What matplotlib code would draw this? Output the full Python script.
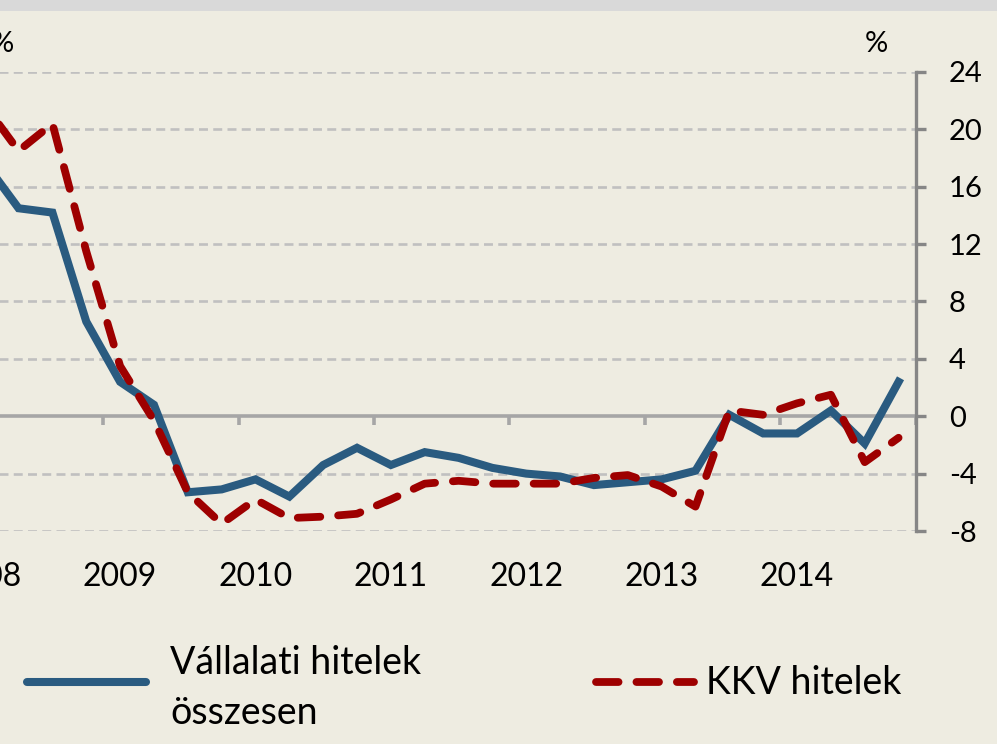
import numpy as np
import matplotlib
matplotlib.use("Agg")
import matplotlib.pyplot as plt
from matplotlib.lines import Line2D
from matplotlib.patches import Rectangle

plt.rcParams['font.family'] = ['Lato', 'DejaVu Sans']

# quarterly data, 2008 Q1 - 2014 Q4 (annual growth, %)
years = ['2008', '2009', '2010', '2011', '2012', '2013', '2014']
vallalati = [17.7, 14.5, 14.2, 6.6,
             2.4, 0.8, -5.3, -5.1,
             -4.4, -5.6, -3.4, -2.2,
             -3.4, -2.5, -2.9, -3.6,
             -4.0, -4.2, -4.8, -4.6,
             -4.4, -3.8, 0.1, -1.2,
             -1.2, 0.4, -1.9, 2.4]
kkv = [21.7, 18.5, 20.4, 11.5,
       3.5, -0.3, -5.3, -7.5,
       -5.8, -7.1, -7.0, -6.8,
       -5.8, -4.7, -4.5, -4.7,
       -4.7, -4.7, -4.3, -4.1,
       -4.9, -6.3, 0.4, 0.1,
       0.9, 1.5, -3.2, -1.5]
yticks = [-8, -4, 0, 4, 8, 12, 16, 20, 24]

W, H = 997, 744
bg = '#EEECE1'
blue = '#2A5B80'
red = '#9E0000'
grid_c = '#C0C0C0'
axis_c = '#A6A6A6'

fig = plt.figure(figsize=(W / 100, H / 100), dpi=100, facecolor=bg)
# grey band on top
fig.patches.append(Rectangle((0, 1 - 11 / H), 1, 11 / H, transform=fig.transFigure,
                             facecolor='#D9D9D9', edgecolor='none'))

x = np.arange(len(vallalati))
# axes deliberately starts left of the figure edge (the original is cropped)
left_px, right_px = -32.2, 915.5
ax = fig.add_axes([left_px / W, (H - 531) / H, (right_px - left_px) / W, (531 - 72) / H])
ax.set_facecolor('none')

for v in yticks:
    if v != 0:
        ax.axhline(v, color=grid_c, lw=1.9, ls=(0, (3.4, 2.0)), zorder=1)
ax.axhline(0, color=axis_c, lw=2.6, zorder=2)
bounds = np.arange(3.5, len(x), 4)
ax.vlines(bounds, -0.6, 0, color=axis_c, lw=2.6, zorder=2)

ax.plot(x, vallalati, color=blue, lw=5.8, solid_joinstyle='miter', zorder=3)
ax.plot(x, kkv, color=red, lw=5.6, ls=(0, (2.9, 2.3)), dash_capstyle='round', zorder=4)

ax.set_xlim(-0.5, len(x) - 0.5)
ax.set_ylim(-8, 24)

for s in ['left', 'top', 'bottom']:
    ax.spines[s].set_visible(False)
ax.spines['right'].set_color('#868686')
ax.spines['right'].set_linewidth(2.4)

ax.yaxis.tick_right()
ax.set_yticks(yticks, labels=[str(v) for v in yticks])
ax.tick_params(axis='y', direction='out', length=7, width=2.4, color='#868686',
               pad=17, labelsize=21, labelcolor='black')
ax.set_xticks(np.arange(0, len(x), 4), labels=years)
ax.tick_params(axis='x', length=0, pad=22, labelsize=23)

fig.text(2 / W, 1 - 44 / H, '%', fontsize=21, ha='center', va='center')
fig.text(876 / W, 1 - 44 / H, '%', fontsize=21, ha='center', va='center')

# legend
fig.add_artist(Line2D([27 / W, 146 / W], [1 - 682 / H] * 2, color=blue, lw=5.8,
                      solid_capstyle='round', transform=fig.transFigure))
fig.text(170 / W, 1 - 663 / H, 'Vállalati hitelek', fontsize=27, ha='left', va='center')
fig.text(170 / W, 1 - 713 / H, 'összesen', fontsize=27, ha='left', va='center')
fig.add_artist(Line2D([596 / W, 694 / W], [1 - 682 / H] * 2, color=red, lw=5.6,
                      ls=(0, (2.9, 2.3)), dash_capstyle='round', transform=fig.transFigure))
fig.text(706 / W, 1 - 683 / H, 'KKV hitelek', fontsize=27, ha='left', va='center')

fig.savefig('out.png', dpi=100, facecolor=bg)
